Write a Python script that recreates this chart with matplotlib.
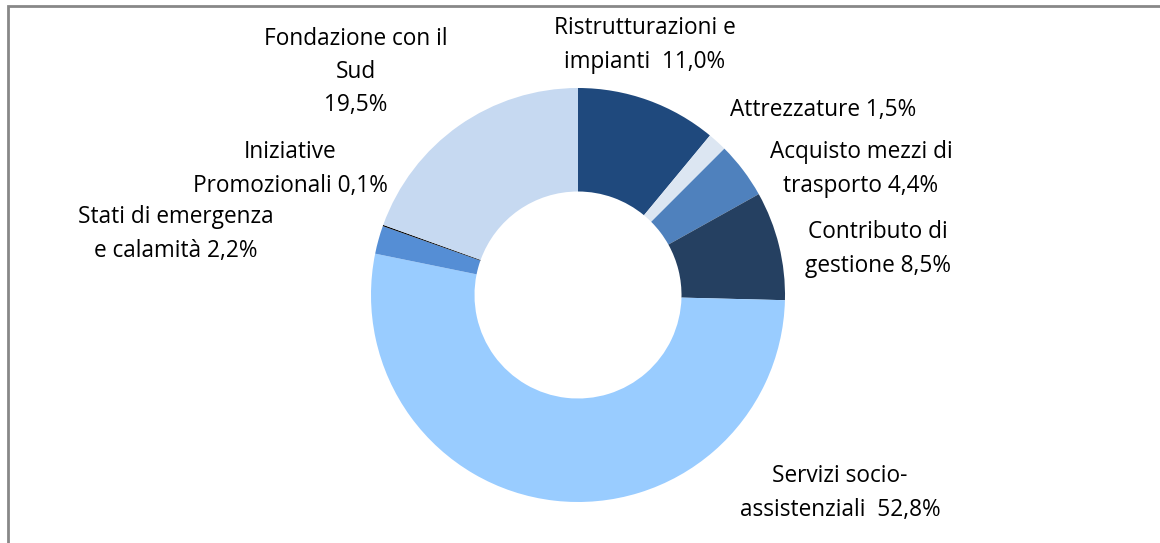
import matplotlib
matplotlib.use("Agg")
import matplotlib.pyplot as plt
from matplotlib.patches import Rectangle

categories = ["Ristrutturazioni e\nimpianti  11,0%", "Attrezzature 1,5%",
              "Acquisto mezzi di\ntrasporto 4,4%", "Contributo di\ngestione 8,5%",
              "Servizi socio-\nassistenziali  52,8%", "Stati di emergenza\ne calamità 2,2%",
              "Iniziative\nPromozionali 0,1%", "Fondazione con il\nSud\n19,5%"]
values = [11.0, 1.5, 4.4, 8.5, 52.8, 2.2, 0.1, 19.5]
colors = ["#1F497D", "#DCE6F2", "#4F81BD", "#254061", "#99CCFF", "#558ED5", "#000000", "#C6D9F1"]

W, H = 1160, 543
fig = plt.figure(figsize=(W / 100, H / 100), dpi=100)
fig.patch.set_facecolor("white")

# border
fig.add_artist(Rectangle((8 / W, -0.05), 1.2, (H - 6) / H + 0.05, transform=fig.transFigure,
                         fill=False, edgecolor="#888888", linewidth=2))

cx, cy, r = 578, 295, 207
ax = fig.add_axes([(cx - r) / W, (H - cy - r) / H, 2 * r / W, 2 * r / H])
ax.pie(values, colors=colors, startangle=90, counterclock=False, radius=1.0,
       wedgeprops=dict(width=0.5, linewidth=0))
ax.set_xlim(-1, 1)
ax.set_ylim(-1, 1)
ax.set_aspect("equal")
ax.axis("off")

label_pos = [(645, 45), (823, 110), (861, 169), (878, 249), (840, 493), (176, 234), (290, 169), (356, 72)]
for lab, (x, y) in zip(categories, label_pos):
    fig.text(x / W, 1 - y / H, lab, ha="center", va="center", fontsize=16.3,
             family=["Open Sans", "DejaVu Sans"], color="black", linespacing=1.52)

fig.savefig("out.png", dpi=100, facecolor="white")
